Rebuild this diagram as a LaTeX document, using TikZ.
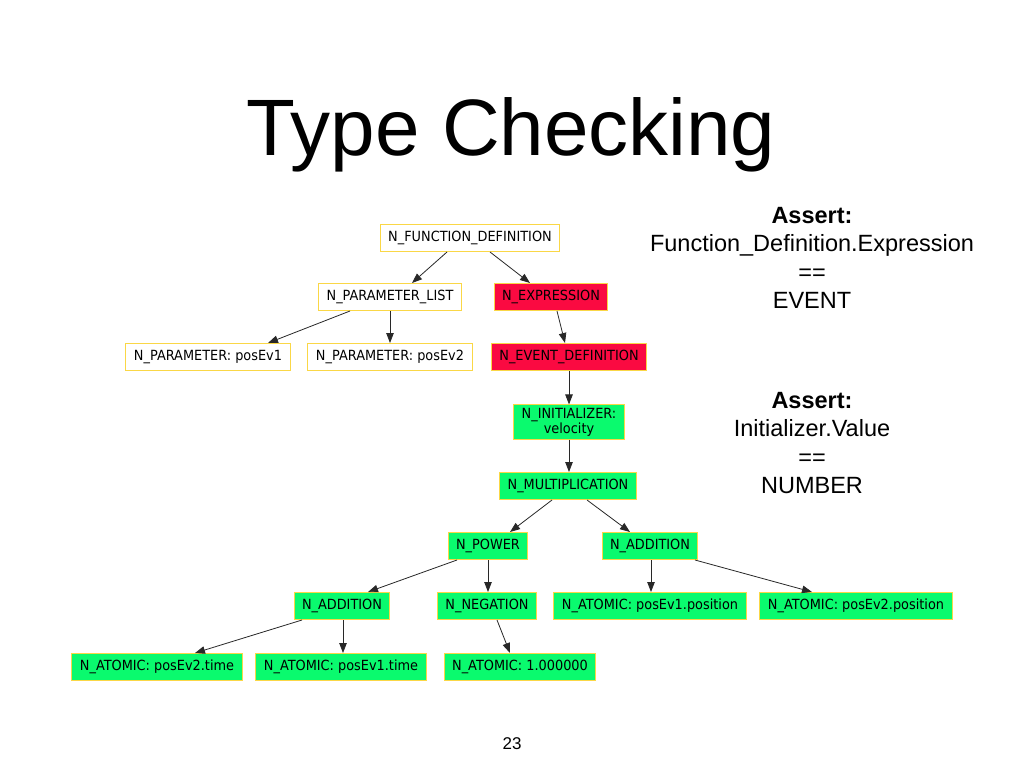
\documentclass[tikz,border=0pt]{standalone}
\usepackage{fontspec}
\setmainfont{Liberation Sans}
\newfontfamily\dotfont{DejaVu Sans}[FakeStretch=0.92]
\usetikzlibrary{arrows.meta}
\definecolor{nodegold}{RGB}{250,215,70}
\definecolor{nodegreen}{RGB}{10,250,110}
\definecolor{nodered}{RGB}{250,10,65}
\definecolor{arrowgray}{RGB}{40,40,40}

\tikzset{
  astnode/.style={draw=nodegold, line width=1pt, inner xsep=8pt, inner ysep=2pt,
    minimum height=27pt, font=\dotfont\fontsize{14}{15}\selectfont},
  treearrow/.style={draw=arrowgray, line width=0.8pt, -{Triangle[length=10pt,width=7.5pt]}},
}

\begin{document}
\begin{tikzpicture}[x=1pt,y=-1pt]

    \path[use as bounding box, fill=white] (0,0) rectangle (1024,768);

    % Draw the title and the slide number
    \node[anchor=base, font=\fontsize{80}{90}\selectfont] (title) at (511,155) {Type Checking};
    \node[anchor=base, font=\fontsize{17}{20}\selectfont] (pagenum) at (512,749) {23};

    % Draw the tree nodes at their centres
    \foreach \name/\x/\y/\col/\label in {
        fundef/470/238/white/{N\_FUNCTION\_DEFINITION},
        params/390/297/white/{N\_PARAMETER\_LIST},
        expr/551/297/nodered/{N\_EXPRESSION},
        parone/208/357/white/{N\_PARAMETER: posEv1},
        partwo/390/357/white/{N\_PARAMETER: posEv2},
        evdef/569/357/nodered/{N\_EVENT\_DEFINITION},
        mult/568/486/nodegreen/{N\_MULTIPLICATION},
        power/488/546/nodegreen/{N\_POWER},
        addr/650/546/nodegreen/{N\_ADDITION},
        addl/342/606/nodegreen/{N\_ADDITION},
        neg/487/606/nodegreen/{N\_NEGATION},
        posone/650/606/nodegreen/{N\_ATOMIC: posEv1.position},
        postwo/856/606/nodegreen/{N\_ATOMIC: posEv2.position},
        timetwo/157/667/nodegreen/{N\_ATOMIC: posEv2.time},
        timeone/341/667/nodegreen/{N\_ATOMIC: posEv1.time},
        const/520/667/nodegreen/{N\_ATOMIC: 1.000000}} {
        \node[astnode, fill=\col] (\name) at (\x,\y) {\label};
    }
    \node[astnode, fill=nodegreen, align=center, inner ysep=3pt] (init) at (569,422) {N\_INITIALIZER:\\velocity};

    % Draw the arrows from parent to child
    \foreach \a/\da/\b/\db in {fundef/-23/params/22, fundef/20/expr/-21,
        params/-40/parone/60, params/0/partwo/0, expr/6/evdef/-4,
        evdef/0/init/0, init/0/mult/1, mult/-16/power/22, mult/19/addr/-20,
        power/-31/addl/26, power/0/neg/1, addr/1/posone/1, addr/45/postwo/-44,
        addl/-40/timetwo/38, addl/1/timeone/2, neg/10/const/-10} {
        \draw[treearrow] ([xshift=\da pt]\a.south) -- ([xshift=\db pt]\b.north);
    }

    % Draw the two assertions
    \node[align=center, font=\fontsize{23.5}{28.5}\selectfont] (assertexpr) at (812,258)
        {\textbf{Assert:}\\Function\_Definition.Expression\\==\\EVENT};
    \node[align=center, font=\fontsize{23.5}{28.5}\selectfont] (assertinit) at (812,443)
        {\textbf{Assert:}\\Initializer.Value\\==\\NUMBER};

\end{tikzpicture}
\end{document}
